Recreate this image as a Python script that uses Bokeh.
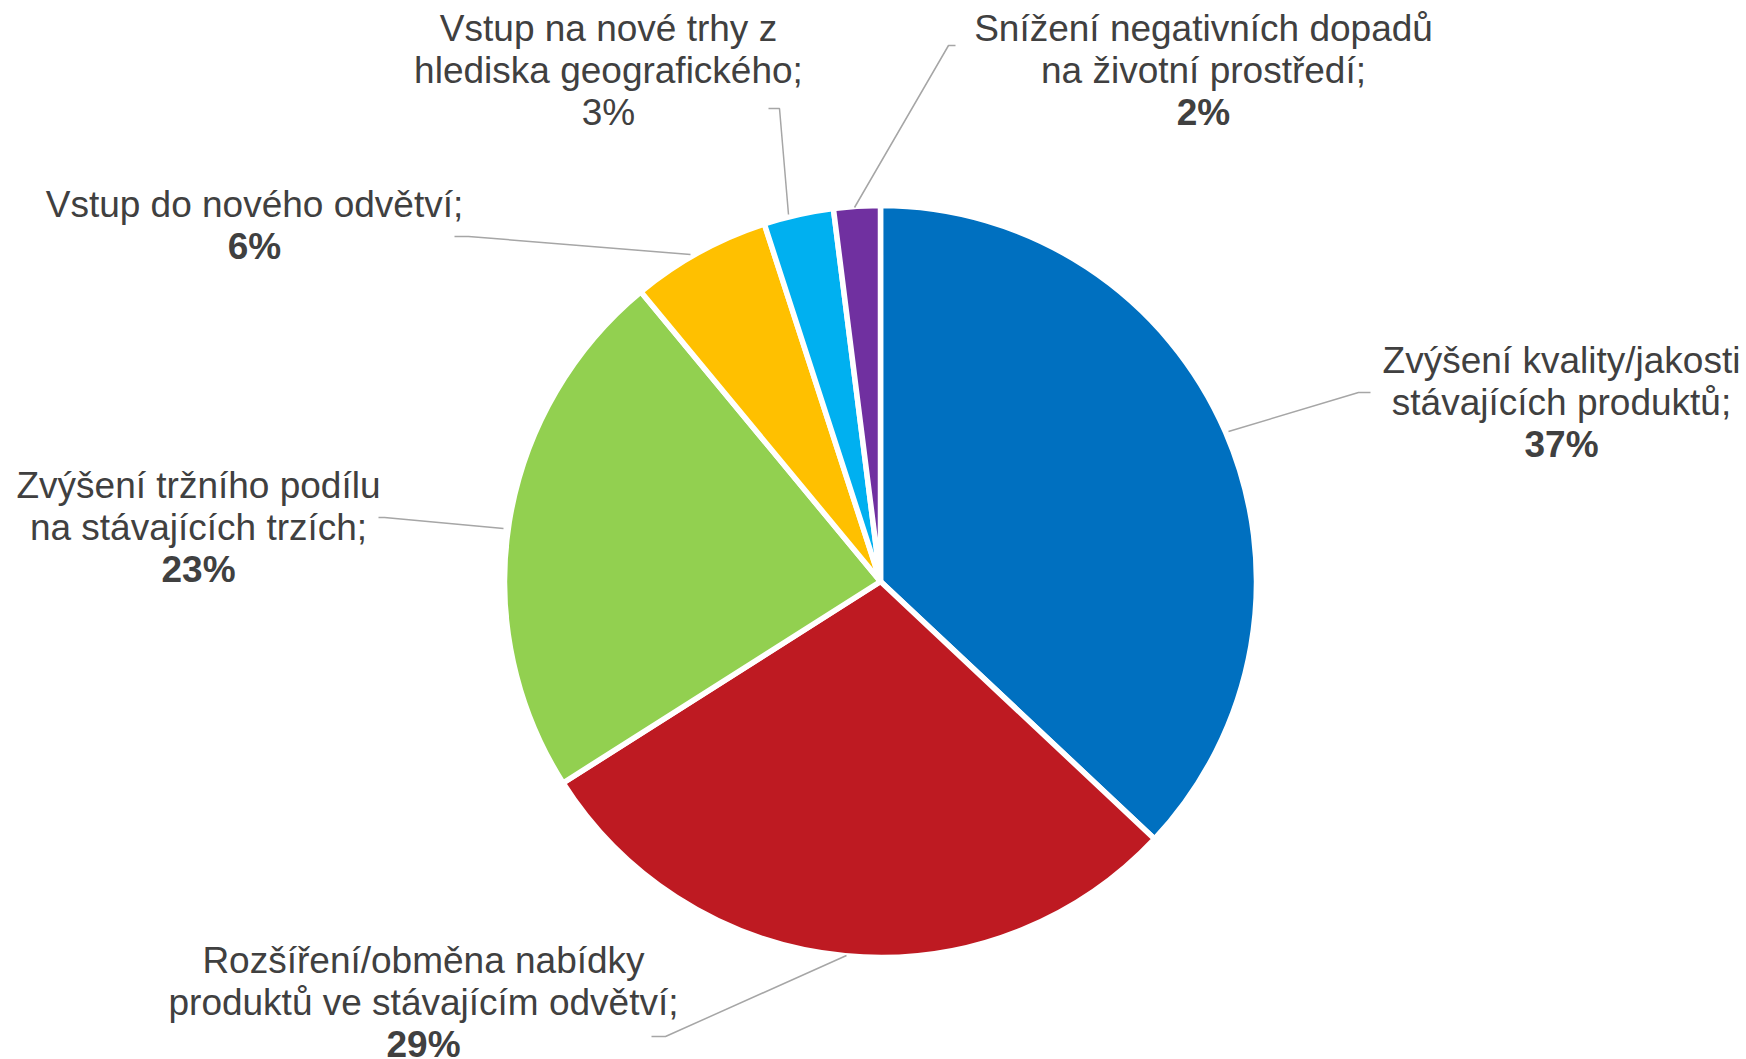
import numpy as np
from bokeh.plotting import figure
from bokeh.models import Range1d
from bokeh.core.properties import value
from bokeh.embed import file_html
from bokeh.resources import INLINE

# ---- data ----
categories = [
    "Zvýšení kvality/jakosti\nstávajících produktů;",
    "Rozšíření/obměna nabídky\nproduktů ve stávajícím odvětví;",
    "Zvýšení tržního podílu\nna stávajících trzích;",
    "Vstup do nového odvětví;",
    "Vstup na nové trhy z\nhlediska geografického;",
    "Snížení negativních dopadů\nna životní prostředí;",
]
shares = [37, 29, 23, 6, 3, 2]
colors = ["#0070C0", "#BE1A22", "#92D050", "#FFC000", "#00B0F0", "#7030A0"]
pct_bold = [True, True, True, True, False, True]

# ---- layout (pixel space, y up) ----
W, H = 1746, 1059
def P(xi, yi):  # screenshot coords -> figure coords
    return xi, H - yi

cx, cy = P(880, 581)
R = 376

# label anchors: (center x, first line center y) in screenshot coords
label_pos = [(1561, 360), (423, 960), (198, 485), (254, 204), (608, 28), (1203, 28)]
leaders = [
    [(1228, 431), (1358, 392), (1370, 392)],
    [(846, 955), (665, 1036), (651, 1036)],
    [(503, 528), (384, 517), (378, 517)],
    [(690, 254), (468, 236), (454, 236)],
    [(788, 214), (779, 108), (768, 108)],
    [(854, 207), (948, 45), (955, 45)],
]

FONT = value("Liberation Sans Narrow, Arial Narrow, Liberation Sans, sans-serif")
FS = 37
LH = 42
TXT = "#404040"

p = figure(width=W, height=H, x_range=Range1d(0, W), y_range=Range1d(0, H),
           output_backend="svg", toolbar_location=None, min_border=0)
p.axis.visible = False
p.grid.visible = False
p.outline_line_color = None
p.background_fill_color = "white"

total = float(sum(shares))
cum = np.cumsum([0] + shares) / total
starts = [np.pi / 2 - 2 * np.pi * cum[i + 1] for i in range(len(shares))]
ends = [np.pi / 2 - 2 * np.pi * cum[i] for i in range(len(shares))]
p.wedge(x=[cx] * len(shares), y=[cy] * len(shares), radius=R,
        start_angle=starts, end_angle=ends, direction="anticlock",
        fill_color=colors, line_color="white", line_width=5.5)

# leader lines
for pts in leaders:
    xs, ys = zip(*[P(*q) for q in pts])
    p.line(list(xs), list(ys), line_color="#A6A6A6", line_width=1.5)

# labels
for i, name in enumerate(categories):
    lx, ly = label_pos[i]
    lines = name.split("\n")
    for j, ln in enumerate(lines):
        x, y = P(lx, ly + j * LH)
        p.text(x=[x], y=[y], text=[ln], text_font=FONT, text_font_size=f"{FS}px",
               text_color=TXT, text_align="center", text_baseline="middle")
    x, y = P(lx, ly + len(lines) * LH)
    p.text(x=[x], y=[y], text=[f"{shares[i]}%"], text_font=FONT,
           text_font_size=f"{FS}px", text_color=TXT, text_align="center",
           text_baseline="middle",
           text_font_style="bold" if pct_bold[i] else "normal")

open("out.html", "w").write(file_html(p, INLINE))
